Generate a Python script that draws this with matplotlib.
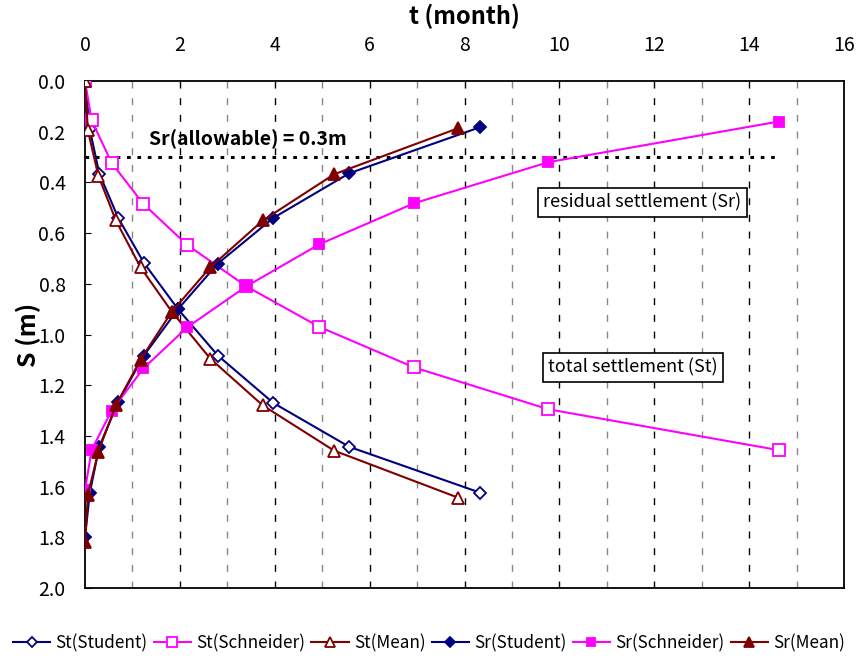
"""Total and residual settlement vs time for three estimation methods."""

import matplotlib
matplotlib.use("Agg")
import matplotlib.pyplot as plt

plt.rcParams["font.family"] = ["Noto Sans CJK KR", "DejaVu Sans"]

# ── Data ──────────────────────────────────────────────────────────────────────
t_student = [0.0, 0.1, 0.3, 0.7, 1.24, 1.96, 2.8, 3.97, 5.57, 8.33]
st_student = [0.0, 0.19, 0.365, 0.54, 0.717, 0.90, 1.083, 1.27, 1.443, 1.624]
sr_student = [1.80, 1.625, 1.443, 1.265, 1.083, 0.90, 0.72, 0.54, 0.364, 0.182]

t_schneider = [0.0, 0.14, 0.56, 1.23, 2.15, 3.4, 4.94, 6.94, 9.77, 14.62]
st_schneider = [0.0, 0.155, 0.323, 0.485, 0.646, 0.81, 0.97, 1.13, 1.295, 1.456]
sr_schneider = [1.613, 1.455, 1.30, 1.134, 0.972, 0.81, 0.644, 0.482, 0.32, 0.16]

t_mean = [0.0, 0.06, 0.28, 0.65, 1.17, 1.83, 2.64, 3.75, 5.25, 7.87]
st_mean = [0.0, 0.195, 0.373, 0.55, 0.735, 0.91, 1.095, 1.28, 1.458, 1.644]
sr_mean = [1.82, 1.632, 1.462, 1.28, 1.099, 0.91, 0.735, 0.55, 0.368, 0.186]

SR_ALLOWABLE = 0.3
ALLOW_T_END = 14.6

NAVY = "#000080"
MAGENTA = "#ff00ff"
DARKRED = "#800000"

fig = plt.figure(figsize=(8.58, 6.57), dpi=100)
ax = fig.add_axes([0.0991, 0.105, 0.8846, 0.7717])

lw = 1.5
series = [
    ("St(Student)", t_student, st_student, NAVY, "D", 6.5, "white"),
    ("St(Schneider)", t_schneider, st_schneider, MAGENTA, "s", 8.5, "white"),
    ("St(Mean)", t_mean, st_mean, DARKRED, "^", 9, "white"),
    ("Sr(Student)", t_student, sr_student, NAVY, "D", 6.5, NAVY),
    ("Sr(Schneider)", t_schneider, sr_schneider, MAGENTA, "s", 7.5, MAGENTA),
    ("Sr(Mean)", t_mean, sr_mean, DARKRED, "^", 9, DARKRED),
]
for label, t, s, color, marker, ms, face in series:
    ax.plot(t, s, color=color, lw=lw, marker=marker, ms=ms,
            mfc=face, mec=color, mew=1.3, label=label, zorder=3)

# allowable residual settlement
ax.plot([0, ALLOW_T_END], [SR_ALLOWABLE, SR_ALLOWABLE], color="black",
        lw=2.2, linestyle=(0, (1.2, 2.2)), zorder=2)
ax.text(1.35, 0.23, "Sr(allowable) = 0.3m", fontsize=14, fontweight="bold",
        va="center", ha="left")

box = dict(boxstyle="square,pad=0.3", fc="white", ec="black", lw=1.2)
ax.text(11.75, 0.478, "residual settlement (Sr)", fontsize=13,
        ha="center", va="center", bbox=box, zorder=4)
ax.text(11.55, 1.13, "total settlement (St)", fontsize=13,
        ha="center", va="center", bbox=box, zorder=4)

# vertical grid: dark dashes on even months, grey on odd
for x in range(1, 16):
    c = "black" if x % 2 == 0 else "#888888"
    ax.axvline(x, color=c, lw=1.0, linestyle=(0, (5, 7)), zorder=1)

ax.set_xlim(0, 16)
ax.set_ylim(2.0, 0.0)
ax.xaxis.tick_top()
ax.set_xticks(range(0, 17, 2))
ax.set_yticks([i / 10 for i in range(0, 21, 2)])
ax.set_yticklabels([f"{i / 10:.1f}" for i in range(0, 21, 2)])
ax.tick_params(axis="x", length=0, pad=18, labelsize=14)
ax.tick_params(axis="y", direction="in", length=4, pad=14, labelsize=14)
for sp in ax.spines.values():
    sp.set_linewidth(1.3)

ax.set_ylabel("S (m)", fontsize=18, fontweight="bold")
ax.yaxis.set_label_coords(-0.058, 0.5)
fig.text(0.541, 1 - 24 / 657, "t (month)", fontsize=17, fontweight="bold",
         ha="center", va="baseline")

fig.legend(loc="center", bbox_to_anchor=(0.5, 0.021), ncol=6, frameon=False,
           fontsize=12.3, handlelength=2.2, handletextpad=0.3,
           columnspacing=0.35, markerscale=0.8, borderaxespad=0, borderpad=0.1)

fig.savefig("out.png", dpi=100)
